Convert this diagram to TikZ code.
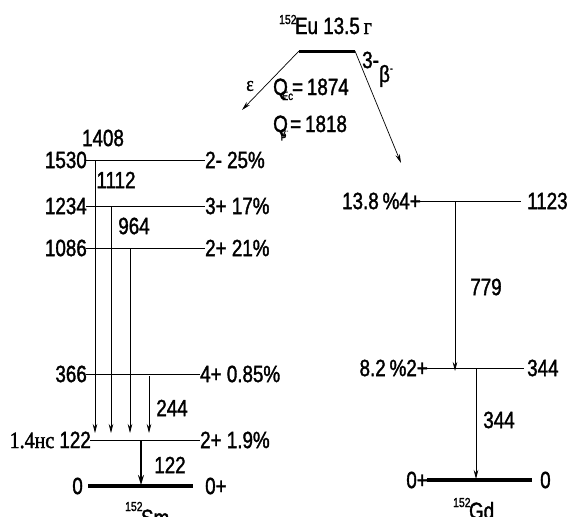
\documentclass[tikz,border=0pt]{standalone}
\usepackage{fontspec}
\setmainfont{Liberation Sans}[FakeStretch=0.8,FakeBold=1.5]
\newfontfamily\serif{Liberation Serif}[FakeStretch=0.85,FakeBold=1.5]
\usetikzlibrary{arrows.meta}
\begin{document}
\begin{tikzpicture}[x=1pt,y=-1pt,
  lvl/.style={line width=0.9pt},
  gnd/.style={line width=3.5pt},
  tr/.style={line width=0.7pt,-{Stealth[length=9pt,width=4.5pt]}},
  trthick/.style={line width=1.8pt,-{Stealth[length=10pt,width=6pt]}},
  txt/.style={inner sep=0pt,font=\fontsize{23.5}{25}\selectfont}]
\useasboundingbox (0,0) rectangle (571,517);
% ---------- parent
\coordinate (euL) at (299,51);
\coordinate (euR) at (355,51);
\draw[gnd,line width=3pt] (euL) -- (euR);
\node[txt,anchor=base west] (eu) at (279,34) {\raisebox{10pt}{\fontsize{13}{13}\selectfont 152}\kern-1.5pt Eu 13.5\,{\serif г}};
\node[txt,anchor=west] (euspin) at (362,60) {3-};
\coordinate (ecTip) at (242,110);
\coordinate (bmTip) at (401,163);
\draw[tr] (euL) -- (ecTip);
\draw[tr] (euR) -- (bmTip);
\node[inner sep=0pt,font=\serif\fontsize{21}{21}\selectfont] (eps) at (250,86) {ε};
\node[txt] (bm) at (386,76) {β\raisebox{10pt}{\fontsize{11}{11}\selectfont -}};
\node[txt,anchor=base west] (qec) at (273,95) {Q\kern-6pt\raisebox{-5pt}{\fontsize{12}{12}\selectfont Ec}\kern-1pt=\,1874};
\node[txt,anchor=base west] (qb) at (273,132) {Q\kern-7pt\raisebox{-6pt}{\fontsize{12}{12}\selectfont β\raisebox{5pt}{\fontsize{7}{7}\selectfont -}}\kern2pt=\,1818};
% ---------- Sm levels
\coordinate (a1L) at (86,160);  \coordinate (a1R) at (205,160);
\coordinate (a2L) at (86,206);  \coordinate (a2R) at (205,206);
\coordinate (a3L) at (86,248);  \coordinate (a3R) at (205,248);
\coordinate (a4L) at (86,374);  \coordinate (a4R) at (200,374);
\coordinate (a5L) at (90,440);  \coordinate (a5R) at (200,440);
\coordinate (a6L) at (88,486);  \coordinate (a6R) at (193,486);
\foreach \i in {1,...,5} \draw[lvl] (a\i L) -- (a\i R);
\draw[gnd] (a6L) -- (a6R);
\node[txt,anchor=east] (e1) at ([xshift=1pt]a1L) {1530};
\node[txt,anchor=east] (e2) at ([xshift=1pt]a2L) {1234};
\node[txt,anchor=east] (e3) at ([xshift=1pt]a3L) {1086};
\node[txt,anchor=east] (e4) at ([xshift=1pt]a4L) {366};
\node[txt,anchor=east] (e5) at ([xshift=1pt]a5L) {{\serif 1.4нс} 122};
\node[txt,anchor=east] (e6) at ([xshift=-5pt]a6L) {0};
\node[txt,anchor=west] (s1) at (a1R) {2- 25\%};
\node[txt,anchor=west] (s2) at (a2R) {3+ 17\%};
\node[txt,anchor=west] (s3) at (a3R) {2+ 21\%};
\node[txt,anchor=west] (s4) at (a4R) {4+ 0.85\%};
\node[txt,anchor=west] (s5) at (a5R) {2+ 1.9\%};
\node[txt,anchor=west] (s6) at ([xshift=12pt]a6R) {0+};
\node[txt,anchor=base west] (sm) at (125,526) {\raisebox{15pt}{\fontsize{13}{13}\selectfont 152}\kern-1.5pt Sm};
% transitions
\coordinate (t1a) at (95,160);  \coordinate (t1b) at (95,433);
\coordinate (t2a) at (111,206); \coordinate (t2b) at (111,433);
\coordinate (t3a) at (130,248); \coordinate (t3b) at (130,433);
\coordinate (t4a) at (149,376); \coordinate (t4b) at (149,433);
\coordinate (t5a) at (141,440); \coordinate (t5b) at (141,485);
\draw[tr] (t1a) -- (t1b);
\draw[tr] (t2a) -- (t2b);
\draw[tr] (t3a) -- (t3b);
\draw[tr] (t4a) -- (t4b);
\draw[trthick] (t5a) -- (t5b);
\node[txt] (g1) at (103,138) {1408};
\node[txt] (g2) at (116,180) {1112};
\node[txt] (g3) at (134,226) {964};
\node[txt] (g4) at (172,408) {244};
\node[txt] (g5) at (170,465) {122};
% ---------- Gd levels
\coordinate (b1L) at (418,201); \coordinate (b1R) at (521,201);
\coordinate (b2L) at (422,368); \coordinate (b2R) at (524,368);
\coordinate (b3L) at (427,480); \coordinate (b3R) at (532,480);
\draw[lvl] (b1L) -- (b1R);
\draw[lvl] (b2L) -- (b2R);
\draw[gnd] (b3L) -- (b3R);
\node[txt,anchor=east] (f1) at ([xshift=3pt]b1L) {13.8\,\%4+};
\node[txt,anchor=east] (f2) at ([xshift=6pt]b2L) {8.2\,\%2+};
\node[txt,anchor=east] (f3) at ([xshift=1pt]b3L) {0+};
\node[txt,anchor=west] (r1) at ([xshift=6pt]b1R) {1123};
\node[txt,anchor=west] (r2) at ([xshift=3pt]b2R) {344};
\node[txt,anchor=west] (r3) at ([xshift=8pt]b3R) {0};
\node[txt,anchor=base west] (gd) at (453,519) {\raisebox{12pt}{\fontsize{13}{13}\selectfont 152}\kern-1.5pt Gd};
\coordinate (u1a) at (455,201); \coordinate (u1b) at (455,371);
\coordinate (u2a) at (476,368); \coordinate (u2b) at (476,479);
\draw[tr] (u1a) -- (u1b);
\draw[tr] (u2a) -- (u2b);
\node[txt] (h1) at (486,287) {779};
\node[txt] (h2) at (499,420) {344};
\end{tikzpicture}
\end{document}
